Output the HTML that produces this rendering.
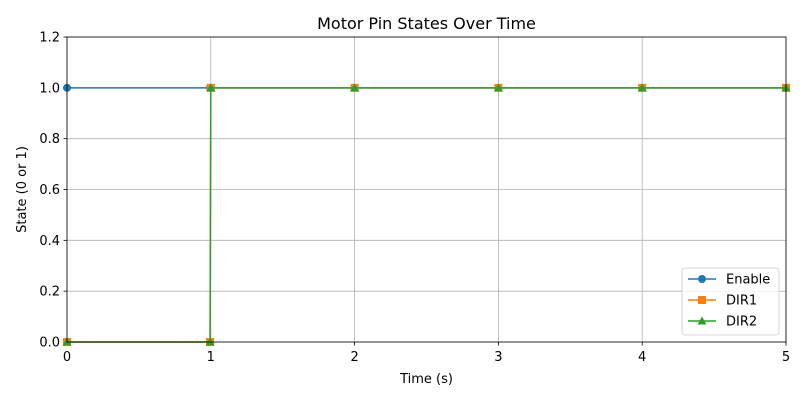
<!DOCTYPE html>
<html><head><meta charset="utf-8"><style>
body{margin:0;background:#fff;font-family:"Liberation Sans","DejaVu Sans",sans-serif;}
</style></head><body>
<svg id="chart" width="806" height="400" xmlns="http://www.w3.org/2000/svg" font-family="DejaVu Sans, Liberation Sans, sans-serif">
<rect width="806" height="400" fill="#fff"/>
</svg>
<script>
const times=[0,0.995,1.0,2,3,4,5];
const enableVals=[1,1,1,1,1,1,1];
const dir1Vals=[0,0,1,1,1,1,1];
const dir2Vals=[0,0,1,1,1,1,1];
const xTicks=[0,1,2,3,4,5];
const yTicks=[0.0,0.2,0.4,0.6,0.8,1.0,1.2];
const seriesNames=["Enable","DIR1","DIR2"];

const svg=document.getElementById('chart');
const NS='http://www.w3.org/2000/svg';
const L=67,R=786,T=37,B=342;
const xs=v=>L+(v-0)/(5-0)*(R-L);
const ys=v=>B-(v-0)/(1.2-0)*(B-T);
function mk(tag,attrs,parent){const e=document.createElementNS(NS,tag);for(const k in attrs)e.setAttribute(k,attrs[k]);(parent||svg).appendChild(e);return e;}

const grid=mk('g',{});


xTicks.forEach(t=>{mk('line',{x1:xs(t),x2:xs(t),y1:T,y2:B,stroke:'#b0b0b0','stroke-width':0.8},grid);});
yTicks.forEach(t=>{mk('line',{x1:L,x2:R,y1:ys(t),y2:ys(t),stroke:'#b0b0b0','stroke-width':0.8},grid);});

const xa=mk('g',{});


xTicks.forEach(t=>{mk('line',{x1:xs(t),x2:xs(t),y1:B,y2:B+3.5,stroke:'#000','stroke-width':0.8},xa);
const tx=mk('text',{x:xs(t),y:B+19,'text-anchor':'middle','font-size':13},xa);tx.textContent=t;});
const ya=mk('g',{});


yTicks.forEach(t=>{mk('line',{x1:L-3.5,x2:L,y1:ys(t),y2:ys(t),stroke:'#000','stroke-width':0.8},ya);
const tx=mk('text',{x:L-7,y:ys(t)+4.5,'text-anchor':'end','font-size':13},ya);tx.textContent=t.toFixed(1);});

const colors=['#1f77b4','#ff7f0e','#2ca02c'];
const allVals=[enableVals,dir1Vals,dir2Vals];
function marker(type,x,y,c,parent){
 if(type===0)return mk('circle',{cx:x,cy:y,r:4,fill:c},parent);
 if(type===1)return mk('rect',{x:x-4,y:y-4,width:8,height:8,fill:c},parent);
 return mk('polygon',{points:`${x},${y-4.5} ${x-4.5},${y+3.5} ${x+4.5},${y+3.5}`,fill:c},parent);
}
const clip=mk('clipPath',{id:'pc'});mk('rect',{x:L-6,y:T,width:R-L+12,height:B-T+6},clip);
allVals.forEach((vals,i)=>{
 const g=mk('g',{'clip-path':'url(#pc)'});
 
 
 mk('polyline',{points:times.map((t,j)=>xs(t)+','+ys(vals[j])).join(' '),fill:'none',stroke:colors[i],'stroke-width':1.5},g);
 times.forEach((t,j)=>marker(i,xs(t),ys(vals[j]),colors[i],g));
});

mk('rect',{x:L,y:T,width:R-L,height:B-T,fill:'none',stroke:'#000','stroke-width':0.8});

const title=mk('text',{x:(L+R)/2,y:29,'text-anchor':'middle','font-size':16});
title.textContent='Motor Pin States Over Time';


const xt=mk('text',{x:(L+R)/2,y:383,'text-anchor':'middle','font-size':13});
xt.textContent='Time (s)';


const yt=mk('text',{x:0,y:0,'text-anchor':'middle','font-size':13,transform:`translate(26,${(T+B)/2}) rotate(-90)`});
yt.textContent='State (0 or 1)';



const lg=mk('g',{});


mk('rect',{x:682,y:268,width:97,height:67,rx:3,fill:'#fff','fill-opacity':0.8,stroke:'#ccc','stroke-width':0.8},lg);
seriesNames.forEach((n,i)=>{
 const y=279+i*21;
 const e=mk('g',{},lg);
 
 
 mk('line',{x1:688,x2:716,y1:y,y2:y,stroke:colors[i],'stroke-width':1.5},e);
 marker(i,702,y,colors[i],e);
 const tx=mk('text',{x:726,y:y+4.5,'font-size':13},e);tx.textContent=n;
});
</script>
</body></html>
